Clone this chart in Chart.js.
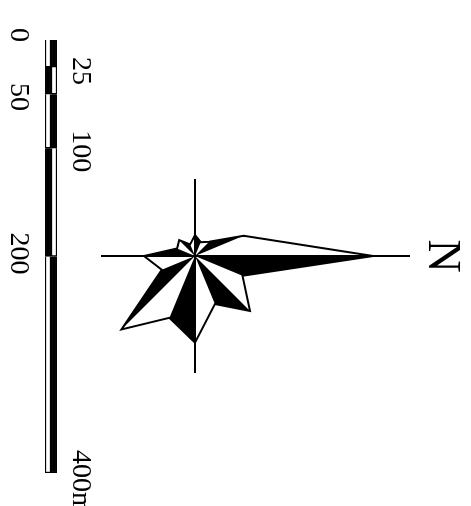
<!DOCTYPE html>
<html><head><meta charset="utf-8">
<style>html,body{margin:0;padding:0;background:#fff;overflow:hidden}
.w{position:absolute;left:0;top:0;width:471px;height:506px}</style>
<script src="https://cdn.jsdelivr.net/npm/chart.js@4"></script></head>
<body>
<div class="w"><canvas id="bar" width="471" height="506"></canvas></div>
<div class="w"><canvas id="rose" width="471" height="506"></canvas></div>
<script>
const directions=['N','NNE','NE','ENE','E','ESE','SE','SSE','S','SSW','SW','WSW','W','WNW','NW','NNW'];
const roseLengths=[178,51.4,77.8,52,86.7,67,104,36,51,19.4,22.4,12.6,21,15,20,52.6];
const axisArms=[215,0,0,0,117,0,0,0,94,0,0,0,77,0,0,0];
const blackSectorStarts=[0,2,4,6,8,10,12,14];
const scaleSegments=[25,25,50,100,200];
const scaleLeftColours=['#fff','#000','#fff','#000','#fff'];
const scaleRightColours=['#000','#fff','#000','#fff','#000'];
const leftTickValues=[0,50,200];
const leftTickLabels=['0','50','200'];
const rightTickValues=[25,100,400];
const rightTickLabels=['25','100','400m'];
const leftNudge=[-5,3,-3];
const rightNudge=[4,3,9];
const northLabel='N';
const serif='"Liberation Serif"';

const sectorDatasets=blackSectorStarts.map(s=>({
  data:roseLengths.map((v,i)=>(i===s||i===(s+1)%16)?v:0),
  borderWidth:0,borderColor:'#000',backgroundColor:'#000',fill:'origin',pointRadius:0,tension:0,clip:false}));

new Chart(document.getElementById('rose'),{
  type:'radar',
  data:{labels:directions,datasets:[
    ...sectorDatasets,
    {data:roseLengths,borderColor:'#000',borderWidth:2,fill:false,pointRadius:0,tension:0,clip:false},
    {data:axisArms,borderColor:'#000',borderWidth:2,fill:false,pointRadius:0,tension:0,clip:false}
  ]},
  options:{responsive:false,animation:false,
    layout:{padding:{top:6,right:81}},
    plugins:{legend:{display:false},tooltip:{enabled:false}},
    scales:{r:{display:false,min:0,max:195,startAngle:90,pointLabels:{display:false}}}
  },
  plugins:[{id:'north',afterDraw(c){
    const p=c.scales.r.getPointPosition(0,234);
    const g=c.ctx;g.save();g.translate(p.x,p.y);g.rotate(Math.PI/2);
    g.font='46px '+serif;g.fillStyle='#000';g.textAlign='center';g.textBaseline='alphabetic';
    g.fillText(northLabel,0,0);g.restore();
  }}]
});

function tickAxis(position,values,labels,nudge,pad,w){
  return {position,min:0,max:400,reverse:true,
    grid:{display:false,drawTicks:false},border:{display:false},
    ticks:{autoSkip:false,minRotation:-90,maxRotation:-90,padding:pad,crossAlign:'center',color:'#000',
      font:{family:serif,size:28},callback:v=>v},
    afterBuildTicks(s){s.ticks=values.map((v,i)=>({value:v+nudge[i]/1.083,label:labels[i]}));},
    afterTickToLabelConversion(s){s.ticks.forEach((t,i)=>t.label=labels[i]);},
    afterFit(s){s.width=w;s.paddingTop=0;s.paddingBottom=0;}
  };
}
new Chart(document.getElementById('bar'),{
  type:'bar',
  data:{labels:['a','b'],datasets:scaleSegments.map((v,i)=>({
    data:[v,v],backgroundColor:[scaleLeftColours[i],scaleRightColours[i]],
    borderColor:'#000',borderWidth:1.5,barPercentage:1,categoryPercentage:1,yAxisID:'y'}))},
  options:{responsive:false,animation:false,
    layout:{padding:{top:40,bottom:33}},
    plugins:{legend:{display:false},tooltip:{enabled:false}},
    scales:{
      x:{display:false,stacked:true},
      y:{stacked:true,...tickAxis('left',leftTickValues,leftTickLabels,leftNudge,6,45)},
      y2:tickAxis('right',rightTickValues,rightTickLabels,rightNudge,-9,414)
    }
  }
});
</script></body></html>
